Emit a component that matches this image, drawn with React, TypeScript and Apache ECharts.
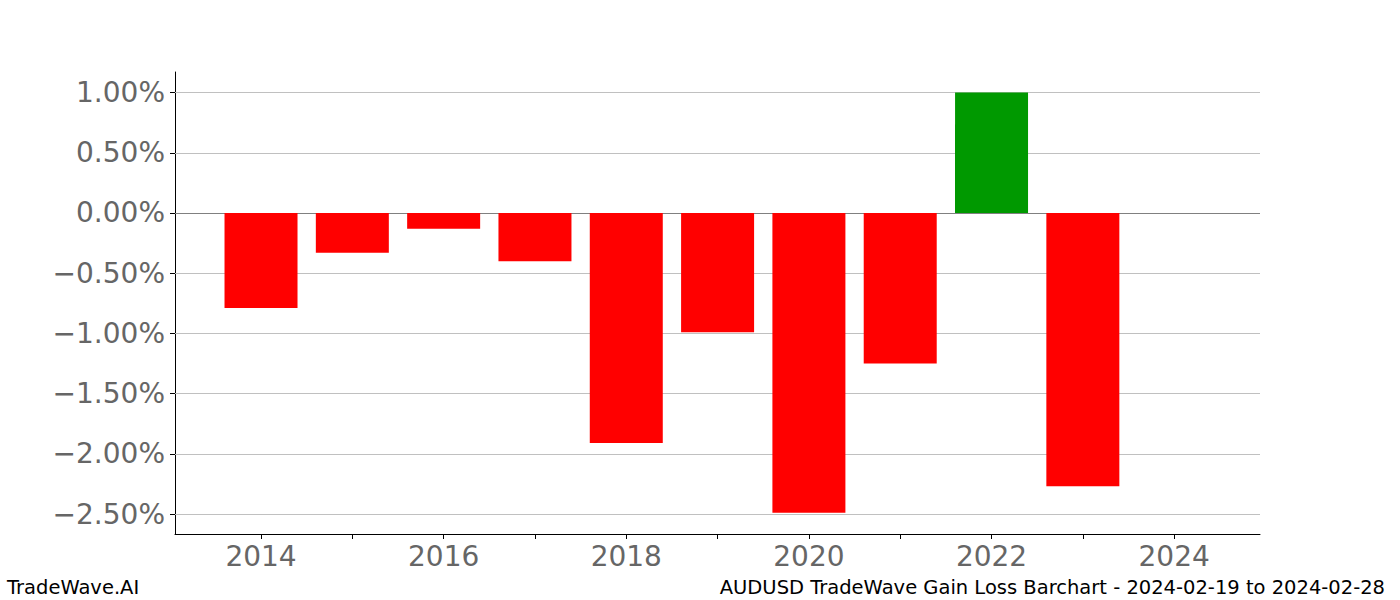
import React, { useEffect, useRef } from "react";
import * as echarts from "echarts";

const years = [2014, 2015, 2016, 2017, 2018, 2019, 2020, 2021, 2022, 2023];
const gainLoss = [-0.79, -0.33, -0.13, -0.4, -1.91, -0.99, -2.49, -1.25, 1.0, -2.27];
const xTickValues = [2014, 2015, 2016, 2017, 2018, 2019, 2020, 2021, 2022, 2023, 2024];
const xLabelValues = [2014, 2016, 2018, 2020, 2022, 2024];
const yTickValues = [-2.5, -2.0, -1.5, -1.0, -0.5, 0.0, 0.5, 1.0];
const leftText = "TradeWave.AI";
const rightText = "AUDUSD TradeWave Gain Loss Barchart - 2024-02-19 to 2024-02-28";

const FONT = "'DejaVu Sans', sans-serif";

function fmtPct(v: number): string {
  const s = Math.abs(v).toFixed(2) + "%";
  return v < -1e-9 ? "\u2212" + s : s;
}

export default function App() {
  const ref = useRef<HTMLDivElement>(null);
  useEffect(() => {
    if (!ref.current) return;
    document.body.style.margin = "0";
    const chart = echarts.init(ref.current, null, { renderer: "svg" });
    const gridLines = yTickValues.map((v) =>
      Math.abs(v) < 1e-9
        ? { yAxis: v, lineStyle: { color: "#808080", width: 1, type: "solid" } }
        : { yAxis: v, lineStyle: { color: "#c0c0c0", width: 1, type: "solid" } }
    );
    chart.setOption({
      animation: false,
      backgroundColor: "#ffffff",
      grid: { left: 175, right: 140, top: 72, bottom: 66, containLabel: false },
      xAxis: {
        type: "value",
        min: 2013.058,
        max: 2024.94,
        axisLine: { show: true, onZero: false, lineStyle: { color: "#000", width: 1 } },
        axisTick: { show: true, length: 5, customValues: xTickValues, lineStyle: { color: "#000", width: 1 } },
        axisLabel: {
          show: true,
          customValues: xLabelValues,
          margin: 8,
          fontSize: 28,
          fontFamily: FONT,
          color: "#666666",
          formatter: (v: number) => String(Math.round(v)),
        },
        splitLine: { show: false },
      },
      yAxis: {
        type: "value",
        min: -2.666,
        max: 1.171,
        axisLine: { show: true, lineStyle: { color: "#000", width: 1 } },
        axisTick: { show: true, length: 5, customValues: yTickValues, lineStyle: { color: "#000", width: 1 } },
        axisLabel: {
          show: true,
          customValues: yTickValues,
          margin: 10,
          fontSize: 28,
          fontFamily: FONT,
          color: "#666666",
          formatter: (v: number) => fmtPct(v),
        },
        splitLine: { show: false },
      },
      series: [
        {
          type: "bar",
          barWidth: 73,
          z: 2,
          data: years.map((y, i) => ({
            value: [y, gainLoss[i]],
            itemStyle: { color: gainLoss[i] >= 0 ? "#009900" : "#ff0000" },
          })),
          markLine: {
            silent: true,
            z: 1,
            symbol: "none",
            label: { show: false },
            emphasis: { disabled: true },
            data: gridLines,
          },
        },
      ],
      graphic: [
        {
          type: "text",
          left: 7,
          top: 577,
          style: { text: leftText, font: `19.5px ${FONT}`, fill: "#000" },
        },
        {
          type: "text",
          right: 15,
          top: 577,
          style: { text: rightText, font: `19.5px ${FONT}`, fill: "#000" },
        },
      ],
    });
    return () => chart.dispose();
  }, []);
  return <div ref={ref} style={{ width: 1400, height: 600 }} />;
}
